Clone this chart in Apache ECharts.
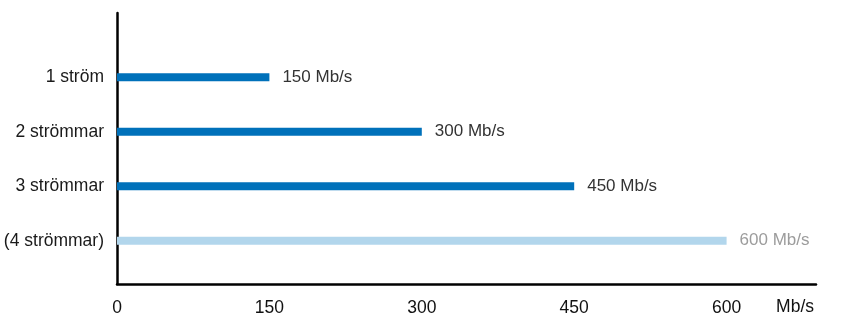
<!DOCTYPE html>
<html>
<head>
<meta charset="utf-8">
<script src="https://cdn.jsdelivr.net/npm/echarts@6/dist/echarts.min.js"></script>
<style>
html,body{margin:0;padding:0;background:#fff;}
#chart{width:850px;height:331px;}
</style>
</head>
<body>
<div id="chart"></div>
<script>
const categories = ['1 ström', '2 strömmar', '3 strömmar', '(4 strömmar)'];
const speeds = [150, 300, 450, 600];
const projected = [false, false, false, true];
const xTicks = [0, 150, 300, 450, 600];
const unit = 'Mb/s';

const FONT = '"Liberation Sans", Arial, Helvetica, sans-serif';
const DARK = '#0071BA';
const LIGHT = '#B2D6EC';

const chart = echarts.init(document.getElementById('chart'), null, {renderer: 'canvas'});

const barData = speeds.map((v, i) => ({
  value: v,
  itemStyle: {color: projected[i] ? LIGHT : DARK},
  label: {color: projected[i] ? '#9c9c9c' : '#333333'}
}));

chart.setOption({
  animation: false,
  backgroundColor: '#ffffff',
  grid: [
    {left: 117, right: 34, top: 13, bottom: 47},
    {left: 117, right: 34, top: 50, bottom: 63}
  ],
  xAxis: [
    {
      gridIndex: 0, type: 'value', min: 0, max: 688, interval: xTicks[1] - xTicks[0],
      axisLine: {show: true, lineStyle: {color: '#000', width: 2.5}},
      axisTick: {show: false},
      splitLine: {show: false},
      axisLabel: {
        show: true, fontFamily: FONT, fontSize: 17.5, color: '#111', margin: 15,
        showMaxLabel: false,
        formatter: v => (xTicks.indexOf(v) >= 0 ? String(v) : '')
      },
      name: unit, nameLocation: 'end', nameGap: -2,
      nameTextStyle: {fontFamily: FONT, fontSize: 17.5, color: '#111', align: 'right', verticalAlign: 'top', padding: [14, 0, 0, 0]}
    },
    {
      gridIndex: 1, type: 'value', min: 0, max: 688, show: false
    }
  ],
  yAxis: [
    {
      gridIndex: 0, type: 'value', min: 0, max: 1,
      axisLine: {show: true, lineStyle: {color: '#000', width: 2.5}},
      axisTick: {show: false}, axisLabel: {show: false}, splitLine: {show: false}
    },
    {
      gridIndex: 1, type: 'category', data: categories, inverse: true,
      axisLine: {show: false}, axisTick: {show: false}, splitLine: {show: false},
      axisLabel: {fontFamily: FONT, fontSize: 17.5, color: '#1a1a1a', margin: 13}
    }
  ],
  series: [{
    type: 'bar',
    xAxisIndex: 1, yAxisIndex: 1,
    data: barData,
    barWidth: 8,
    label: {
      show: true, position: 'right', distance: 13,
      fontFamily: FONT, fontSize: 17,
      formatter: p => p.value + ' ' + unit
    }
  }]
});
</script>
</body>
</html>
